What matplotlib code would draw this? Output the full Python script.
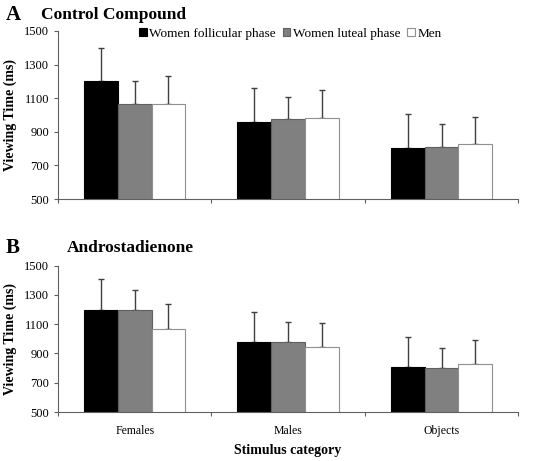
import matplotlib.pyplot as plt
import numpy as np

plt.rcParams['font.family'] = ['Liberation Serif', 'DejaVu Serif']

categories = ['Females', 'Males', 'Objects']
groups = ['Women follicular phase', 'Women luteal phase', 'Men']

# panel A: control compound
ctrl_means = [[1200, 960, 805],
              [1065, 975, 810],
              [1068, 980, 825]]
ctrl_err = [[200, 200, 200],
            [135, 135, 135],
            [165, 170, 165]]

# panel B: androstadienone
andro_means = [[1200, 975, 810],
               [1198, 980, 802],
               [1068, 945, 825]]
andro_err = [[205, 205, 205],
             [133, 137, 135],
             [168, 165, 165]]

colors = ['black', '#808080', 'white']
edges = ['black', '#606060', '#909090']

fig = plt.figure(figsize=(5.37, 4.61), dpi=100)
axA = fig.add_axes([0.108, 0.568, 0.857, 0.365])
axB = fig.add_axes([0.108, 0.106, 0.857, 0.318])

x = np.arange(len(categories))
w = 0.22

def draw(ax, means, errs):
    for i in range(3):
        pos = x + (i - 1) * w
        ax.bar(pos, means[i], w, bottom=0, color=colors[i], edgecolor=edges[i],
               linewidth=0.8, label=groups[i], zorder=2)
        ax.errorbar(pos, means[i], yerr=[np.zeros(3), errs[i]], fmt='none',
                    ecolor='#404040', elinewidth=1, capsize=2.5, capthick=1, zorder=1)
    ax.set_ylim(500, 1500)
    ax.set_xlim(-0.5, 2.5)
    ax.set_yticks([500, 700, 900, 1100, 1300, 1500])
    ax.set_xticks([-0.5, 0.5, 1.5, 2.5])
    ax.set_xticks(x, minor=True)
    ax.tick_params(axis='x', which='major', length=3, labelbottom=False, color='#606060')
    ax.tick_params(axis='x', which='minor', length=0)
    ax.tick_params(axis='y', length=3, labelsize=9, color='#606060')
    for s in ['top', 'right']:
        ax.spines[s].set_visible(False)
    for s in ['left', 'bottom']:
        ax.spines[s].set_color('#606060')
    ax.set_ylabel('Viewing Time (ms)', fontsize=10, fontweight='bold', labelpad=5)

draw(axA, ctrl_means, ctrl_err)
draw(axB, andro_means, andro_err)

axB.set_xticklabels(categories, minor=True, fontsize=8.5)
axB.tick_params(axis='x', which='minor', labelbottom=True, pad=9.5)
axB.set_xlabel('Stimulus category', fontsize=10, fontweight='bold', labelpad=5)

axA.legend(loc='upper center', bbox_to_anchor=(0.505, 1.05), ncol=3, frameon=False,
           fontsize=9.5, handlelength=0.6, handleheight=0.6, handletextpad=0.2,
           columnspacing=0.5, borderaxespad=0)

fig.text(0.01, 0.968, 'A', fontsize=15, fontweight='bold', va='center')
fig.text(0.077, 0.968, 'Control Compound', fontsize=12.5, fontweight='bold', va='center')
fig.text(0.01, 0.463, 'B', fontsize=15, fontweight='bold', va='center')
fig.text(0.125, 0.463, 'Androstadienone', fontsize=12.5, fontweight='bold', va='center')

fig.savefig('out.png', dpi=100)
